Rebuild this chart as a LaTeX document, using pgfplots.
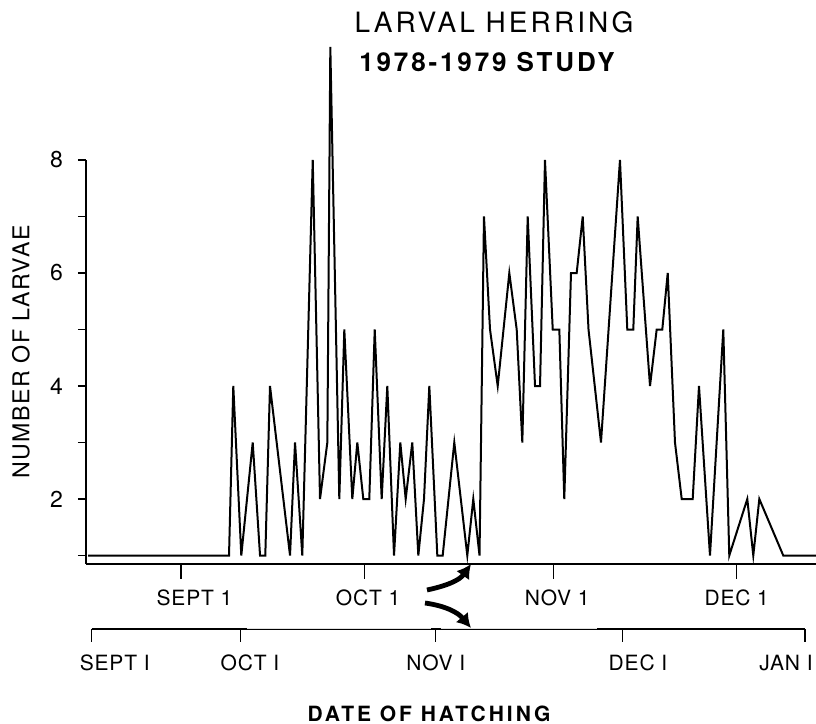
\documentclass[border=0pt]{standalone}
\usepackage{fontspec}
\setmainfont{TeX Gyre Heros}
\newfontfamily\titlefont[LetterSpace=11]{TeX Gyre Heros}
\newfontfamily\ylabfont[LetterSpace=6]{TeX Gyre Heros}
\newfontfamily\xlabfont[LetterSpace=14]{TeX Gyre Heros}
\newfontfamily\tickfont[LetterSpace=4]{TeX Gyre Heros}
\usepackage{pgfplots}
\pgfplotsset{compat=1.18}
\usetikzlibrary{arrows.meta}

\begin{document}
\begin{tikzpicture}[x=0.5pt,y=0.5pt]
\path[use as bounding box] (0,0) rectangle (816,724);

% upper axis: days counted from Sept 1
\begin{axis}[
  at={(43pt,80pt)}, anchor=south west,
  scale only axis, width=365pt, height=202pt,
  xmin=-15.56, xmax=103.98, ymin=0.85, ymax=8,
  axis lines=left, axis line style={-, line width=0.6pt},
  clip=false,
  tick align=outside,
  major tick length=4pt,
  tick style={black, line width=0.6pt},
  ytick={1,2,3,4,5,6,7,8}, yticklabels={,2,,4,,6,,8},
  yticklabel style={font=\fontsize{11.5}{12}\selectfont, xshift=-4pt},
  xtick=\empty,
  extra x ticks={0,30,61,91},
  extra x tick labels={\hspace*{13.5pt}SEPT 1,\hspace*{3.8pt}OCT 1,\hspace*{3.7pt}NOV 1,DEC 1},
  extra x tick style={major tick length=7.5pt,
    tick label style={font=\tickfont\fontsize{10.5}{12}\selectfont, yshift=-2pt}},
]
\addplot[black, line width=1pt, mark=none] coordinates {
(-15.23,1) (7.86,1) (8.56,4) (9.87,1) (11.74,3) (12.94,1) (13.80,1) (14.57,4)
(17.85,1) (18.67,3) (19.86,1) (21.57,8) (22.76,2) (23.96,3) (24.45,10) (25.92,2)
(26.74,5) (28.05,2) (28.87,3) (29.85,2) (30.83,2) (31.72,5) (32.86,2) (33.78,4)
(34.88,1) (35.91,3) (36.79,2) (37.87,3) (38.86,1) (39.79,2) (40.66,4) (41.97,1)
(42.85,1) (44.75,3) (46.88,1) (47.86,2) (48.88,1) (49.61,7) (50.60,5) (51.86,4)
(53.76,6) (54.97,5) (55.89,3) (56.77,7) (57.97,4) (58.79,4) (59.60,8) (60.87,5)
(61.95,5) (62.76,2) (63.86,6) (64.79,6) (65.78,7) (66.73,5) (68.77,3) (71.88,8)
(73.08,5) (74.06,5) (74.78,7) (76.80,4) (77.89,5) (78.81,5) (79.70,6) (80.89,3)
(81.99,2) (83.79,2) (84.82,4) (86.62,1) (88.80,5) (89.78,1) (92.73,2) (93.71,1)
(94.70,2) (98.62,1) (103.98,1)
};
\end{axis}

% lower axis: the second calendar
\begin{axis}[
  at={(45.85pt,47.5pt)}, anchor=south west,
  scale only axis, width=356.65pt, height=10pt,
  xmin=-14.62, xmax=102.18, ymin=0, ymax=1,
  axis x line=bottom, axis y line=none, axis line style={-, line width=0.6pt},
  ytick=\empty,
  tick align=outside, major tick length=6.5pt,
  tick style={black, line width=0.6pt},
  xtick={-14.62,9.78,41.72,72.33,102.18},
  xticklabels={\hspace*{23pt}SEPT I,\hspace*{9.3pt}OCT I,NOV I,\hspace*{15.3pt}DEC I,JAN I\hspace*{19pt}},
  xticklabel style={font=\tickfont\fontsize{10.5}{12}\selectfont, yshift=-3pt},
]
\draw[gray!25, line width=0.8pt] (axis cs:10.8,0) -- (axis cs:40.9,0);
\draw[gray!25, line width=0.8pt] (axis cs:42.5,0) -- (axis cs:68.1,0);
\end{axis}

% arrows linking the two calendars
\draw[line width=2.4pt, -{Latex[length=7pt,width=8pt]}] (427,134) to[out=12,in=235] (471,160);
\draw[line width=2.4pt, -{Latex[length=7pt,width=8pt]}] (425,121) to[out=-8,in=130] (471,96);

\node[font=\titlefont\fontsize{14}{16}\selectfont] at (494,702) {LARVAL HERRING};
\node[font=\titlefont\bfseries\fontsize{13}{15}\selectfont] at (487,661.5) {1978-1979 STUDY};
\node[rotate=90, font=\ylabfont\fontsize{11.6}{13}\selectfont] at (21,372) {NUMBER OF LARVAE};
\node[font=\xlabfont\bfseries\fontsize{10.5}{12}\selectfont] at (429,10) {DATE OF HATCHING};
\end{tikzpicture}
\end{document}
